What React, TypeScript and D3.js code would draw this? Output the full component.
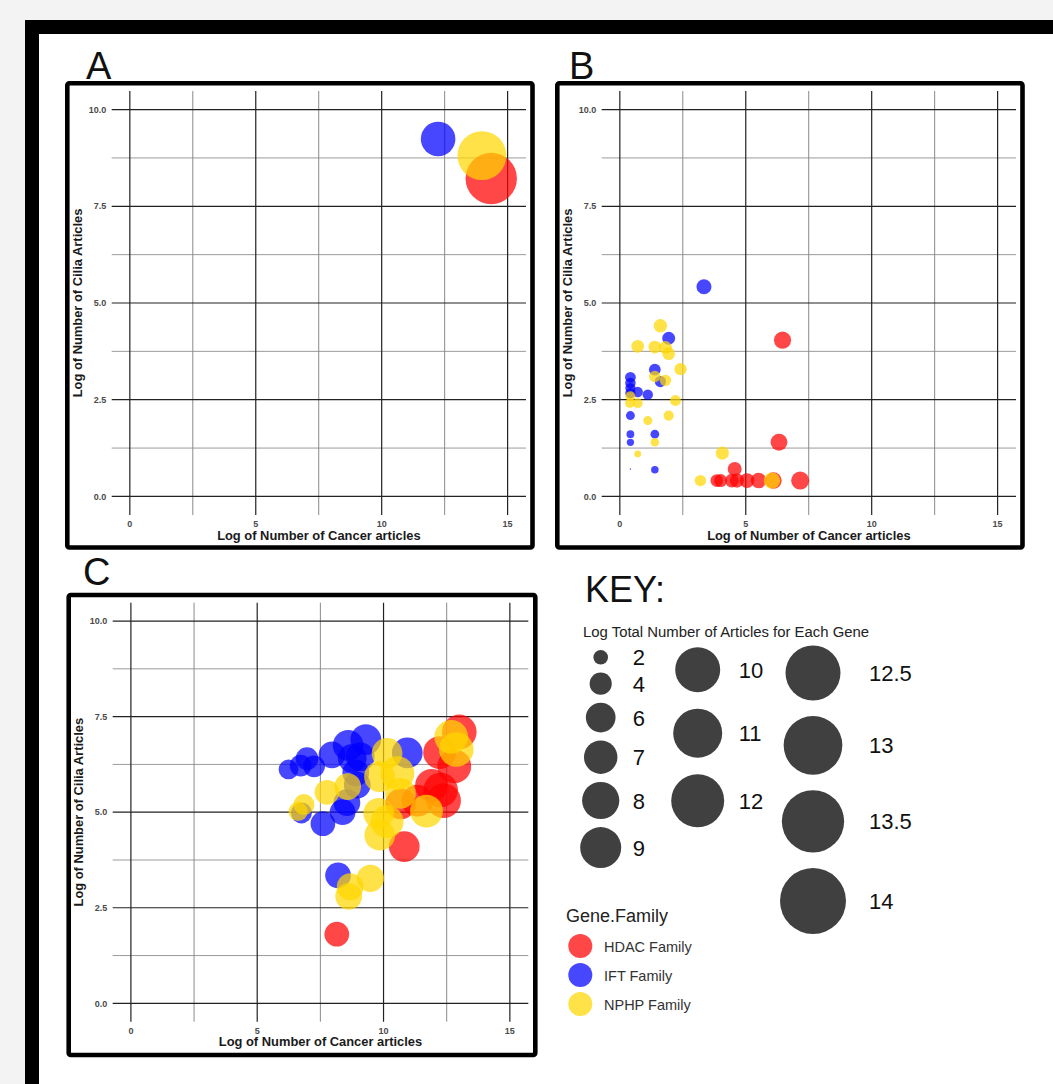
import React from 'react';
import * as d3 from 'd3';

// ---------- data ----------
const FAMILIES = ['HDAC Family', 'IFT Family', 'NPHP Family'];
const FAMILY_COLORS = ['#ff0000', '#0000ff', '#ffd700'];

const X_TICKS = [0, 5, 10, 15];
const X_MINOR = [2.5, 7.5, 12.5];
const Y_TICKS = [0, 2.5, 5, 7.5, 10];
const Y_MINOR = [1.25, 3.75, 6.25, 8.75];
const X_TITLE = 'Log of Number of Cancer articles';
const Y_TITLE = 'Log of Number of Cilia Articles';

// [log cancer articles, log cilia articles, log total articles]
const A_HDAC = [[14.35, 8.22, 14.35]];
const A_IFT = [[12.24, 9.24, 12.29]];
const A_NPHP = [[13.98, 8.81, 13.99]];

const B_HDAC = [
  [6.46, 4.04, 6.55], [6.32, 1.4, 6.33], [4.56, 0.71, 4.58], [3.85, 0.41, 3.88],
  [4.0, 0.41, 4.03], [4.45, 0.41, 4.47], [4.65, 0.41, 4.66], [5.05, 0.41, 5.06],
  [5.51, 0.41, 5.52], [6.1, 0.41, 6.1], [7.16, 0.41, 7.16],
];
const B_IFT = [
  [3.34, 5.42, 5.2], [1.94, 4.09, 4.0], [1.39, 3.28, 3.42], [1.61, 2.97, 3.2],
  [0.42, 3.08, 3.0], [0.42, 2.93, 2.9], [0.42, 2.8, 2.8], [0.42, 2.67, 2.77],
  [0.71, 2.7, 2.83], [1.11, 2.63, 2.83], [0.42, 2.09, 2.26], [0.42, 1.61, 1.87],
  [0.42, 1.4, 1.72], [1.39, 1.61, 2.2], [1.39, 0.69, 1.79], [0.42, 0.71, 0.7],
];
const B_NPHP = [
  [1.61, 4.41, 4.3], [0.71, 3.88, 3.92], [1.39, 3.86, 3.94], [1.81, 3.85, 3.97],
  [1.94, 3.69, 3.85], [2.41, 3.29, 3.64], [1.39, 3.1, 3.27], [1.81, 3.0, 3.26],
  [0.42, 2.59, 2.7], [0.4, 2.41, 2.53], [0.71, 2.41, 2.58], [2.21, 2.48, 3.05],
  [1.94, 2.09, 2.71], [1.11, 1.96, 2.32], [1.39, 1.4, 2.09], [0.71, 1.1, 1.62],
  [4.07, 1.12, 4.12], [3.2, 0.41, 3.26], [6.04, 0.41, 6.04],
];

const C_HDAC = [
  [8.15, 1.81, 8.6], [10.82, 4.1, 11.1], [13.0, 7.1, 13.0], [12.22, 6.56, 12.1],
  [12.8, 6.2, 12.6], [12.26, 5.58, 13.0], [12.38, 5.3, 13.0], [11.34, 5.3, 11.6],
  [10.68, 5.22, 11.1], [11.9, 5.7, 12.1],
];
const C_IFT = [
  [6.24, 6.12, 6.97], [6.72, 6.22, 7.6], [6.97, 6.4, 7.9], [7.25, 6.2, 7.6],
  [7.96, 6.5, 9.4], [8.6, 6.75, 11.1], [9.3, 6.9, 11.1], [8.76, 6.41, 10.2],
  [8.9, 6.03, 9.4], [8.96, 5.71, 9.4], [9.08, 6.45, 10.2], [10.94, 6.55, 11.1],
  [8.2, 3.35, 9.0], [6.75, 4.98, 7.3], [7.6, 4.7, 8.6], [8.38, 5.0, 9.0],
  [8.55, 5.25, 9.4],
];
const C_NPHP = [
  [6.62, 5.02, 6.8], [6.85, 5.2, 7.3], [7.76, 5.52, 8.6], [8.58, 5.67, 9.4],
  [9.81, 4.97, 11.1], [10.14, 6.54, 11.1], [9.84, 5.93, 11.1], [10.55, 6.02, 12.6],
  [10.67, 5.49, 11.1], [10.14, 4.75, 12.1], [9.85, 4.4, 11.1], [11.7, 5.03, 12.1],
  [12.68, 6.97, 12.6], [12.88, 6.64, 13.0], [9.48, 3.27, 9.6], [8.68, 3.05, 9.4],
  [8.62, 2.8, 9.4],
];

const KEY_VALUES = [2, 4, 6, 7, 8, 9, 10, 11, 12, 12.5, 13, 13.5, 14];
const KEY_TITLE = 'Log Total Number of Articles for Each Gene';
const LEGEND_TITLE = 'Gene.Family';

// ---------- layout ----------
const W = 1053;
const H = 1084;
const FONT = "'Liberation Sans', Arial, Helvetica, sans-serif";
const X_DOMAIN = [-0.72, 15.73];
const Y_DOMAIN = [-0.48, 10.48];

const PANELS = [
  {
    label: 'A', lx: 86, ly: 79,
    frame: { x: 67.3, y: 83.3, w: 465.2, h: 464.2 },
    plot: { l: 111.7, r: 526, t: 91, b: 515 },
    sizeRange: [17.3, 25.7],
    series: [A_HDAC, A_IFT, A_NPHP],
  },
  {
    label: 'B', lx: 569, ly: 79,
    frame: { x: 557.3, y: 83.3, w: 465.2, h: 464.2 },
    plot: { l: 601.7, r: 1016, t: 91, b: 515 },
    sizeRange: [0.7, 9.0],
    series: [B_HDAC, B_IFT, B_NPHP],
  },
  {
    label: 'C', lx: 83, ly: 585,
    frame: { x: 68.7, y: 595, w: 466.6, h: 460 },
    plot: { l: 112.7, r: 528.3, t: 602.7, b: 1021.7 },
    sizeRange: [9.6, 17.3],
    series: [C_HDAC, C_IFT, C_NPHP],
  },
];

function Panel({ p }: { p: any }) {
  const x = d3.scaleLinear().domain(X_DOMAIN).range([p.plot.l, p.plot.r]);
  const y = d3.scaleLinear().domain(Y_DOMAIN).range([p.plot.b, p.plot.t]);
  const all = p.series.flat();
  const ext = d3.extent(all, (d: number[]) => d[2]) as [number, number];
  const area = d3
    .scaleLinear()
    .domain(ext[0] === ext[1] ? [ext[0] - 1, ext[1]] : ext)
    .range([p.sizeRange[0] ** 2, p.sizeRange[1] ** 2]);
  const r = (v: number) => Math.sqrt(area(v));
  const cx = (p.plot.l + p.plot.r) / 2;
  const cy = (p.plot.t + p.plot.b) / 2;
  return (
    <g>
      <text x={p.lx} y={p.ly} fontFamily={FONT} fontSize={38} fill="#111">
        {p.label}
      </text>
      <rect
        x={p.frame.x} y={p.frame.y} width={p.frame.w} height={p.frame.h}
        rx={2} fill="#fff" stroke="#000" strokeWidth={4.6}
      />
      {Y_MINOR.map((t) => (
        <line key={'ym' + t} x1={p.plot.l} x2={p.plot.r} y1={y(t)} y2={y(t)} stroke="#9a9a9a" strokeWidth={1} />
      ))}
      {X_MINOR.map((t) => (
        <line key={'xm' + t} x1={x(t)} x2={x(t)} y1={p.plot.t} y2={p.plot.b} stroke="#8a8a8a" strokeWidth={1} />
      ))}
      {Y_TICKS.map((t) => (
        <line key={'y' + t} x1={p.plot.l} x2={p.plot.r} y1={y(t)} y2={y(t)} stroke="#222" strokeWidth={1.2} />
      ))}
      {X_TICKS.map((t) => (
        <line key={'x' + t} x1={x(t)} x2={x(t)} y1={p.plot.t} y2={p.plot.b} stroke="#222" strokeWidth={1.2} />
      ))}
      {Y_TICKS.map((t) => (
        <text key={'yl' + t} x={p.plot.l - 5.5} y={y(t) + 3.2} textAnchor="end" fontFamily={FONT}
          fontSize={9} fontWeight="bold" fill="#4a4a4a">
          {d3.format('.1f')(t)}
        </text>
      ))}
      {X_TICKS.map((t) => (
        <text key={'xl' + t} x={x(t)} y={p.plot.b + 12} textAnchor="middle" fontFamily={FONT}
          fontSize={9} fontWeight="bold" fill="#4a4a4a">
          {t}
        </text>
      ))}
      <text x={cx} y={p.plot.b + 24.5} textAnchor="middle" fontFamily={FONT} fontSize={12.9}
        fontWeight="bold" fill="#1a1a1a">
        {X_TITLE}
      </text>
      <text transform={`translate(${p.plot.l - 29.5},${cy}) rotate(-90)`} textAnchor="middle"
        fontFamily={FONT} fontSize={12.9} fontWeight="bold" fill="#1a1a1a">
        {Y_TITLE}
      </text>
      {p.series.map((s: number[][], i: number) => (
        <g key={'s' + i}>
          {s.map((d, j) => (
            <circle key={j} cx={x(d[0])} cy={y(d[1])} r={r(d[2])} fill={FAMILY_COLORS[i]} fillOpacity={0.72} />
          ))}
        </g>
      ))}
    </g>
  );
}

// key layout: three columns of stacked circles
const KEY_COLS = [
  { cx: 600.7, top: 650, gap: 8, dx: 32, test: (v: number) => v < 10 },
  { cx: 697.7, top: 647.2, gap: 16.5, dx: 41, test: (v: number) => v >= 10 && v < 12.5 },
  { cx: 813, top: 645.5, gap: 15.5, dx: 56, test: (v: number) => v >= 12.5 },
];

function Key() {
  const kr = d3.scaleLinear().domain([2, 9, 12.5, 14]).range([7.3, 20.5, 27.5, 33]);
  const items: any[] = [];
  KEY_COLS.forEach((c, ci) => {
    let yPos = c.top;
    KEY_VALUES.filter(c.test).forEach((v, i) => {
      const rad = kr(v);
      const cy = yPos + rad;
      items.push({ v, cx: c.cx, cy, r: rad, lx: c.cx + c.dx, key: ci + '-' + i });
      yPos = cy + rad + c.gap;
    });
  });
  const fam = d3.scalePoint().domain(FAMILIES).range([946, 1004]);
  return (
    <g>
      <text x={585} y={602} fontFamily={FONT} fontSize={36} fill="#111">KEY:</text>
      <text x={583} y={637} fontFamily={FONT} fontSize={14.9} fill="#222">{KEY_TITLE}</text>
      {items.map((it) => (
        <g key={it.key}>
          <circle cx={it.cx} cy={it.cy} r={it.r} fill="#404040" />
          <text x={it.lx} y={it.cy + 8} fontFamily={FONT} fontSize={22} fill="#111">{it.v}</text>
        </g>
      ))}
      <text x={566} y={921.5} fontFamily={FONT} fontSize={18} fill="#222">{LEGEND_TITLE}</text>
      {FAMILIES.map((f, i) => (
        <g key={f}>
          <circle cx={580.3} cy={fam(f)} r={12} fill={FAMILY_COLORS[i]} fillOpacity={0.72} />
          <text x={604} y={(fam(f) as number) + 5.5} fontFamily={FONT} fontSize={14.5} fill="#333">{f}</text>
        </g>
      ))}
    </g>
  );
}

export default function App() {
  return (
    <svg width={W} height={H} style={{ position: 'absolute', left: 0, top: 0, display: 'block' }}>
      <rect width={W} height={H} fill="#f3f3f3" />
      <rect x={25} y={20} width={W} height={H} fill="#000" />
      <rect x={39} y={34} width={W} height={H} fill="#fff" />
      {PANELS.map((p) => (
        <Panel key={p.label} p={p} />
      ))}
      <Key />
    </svg>
  );
}
